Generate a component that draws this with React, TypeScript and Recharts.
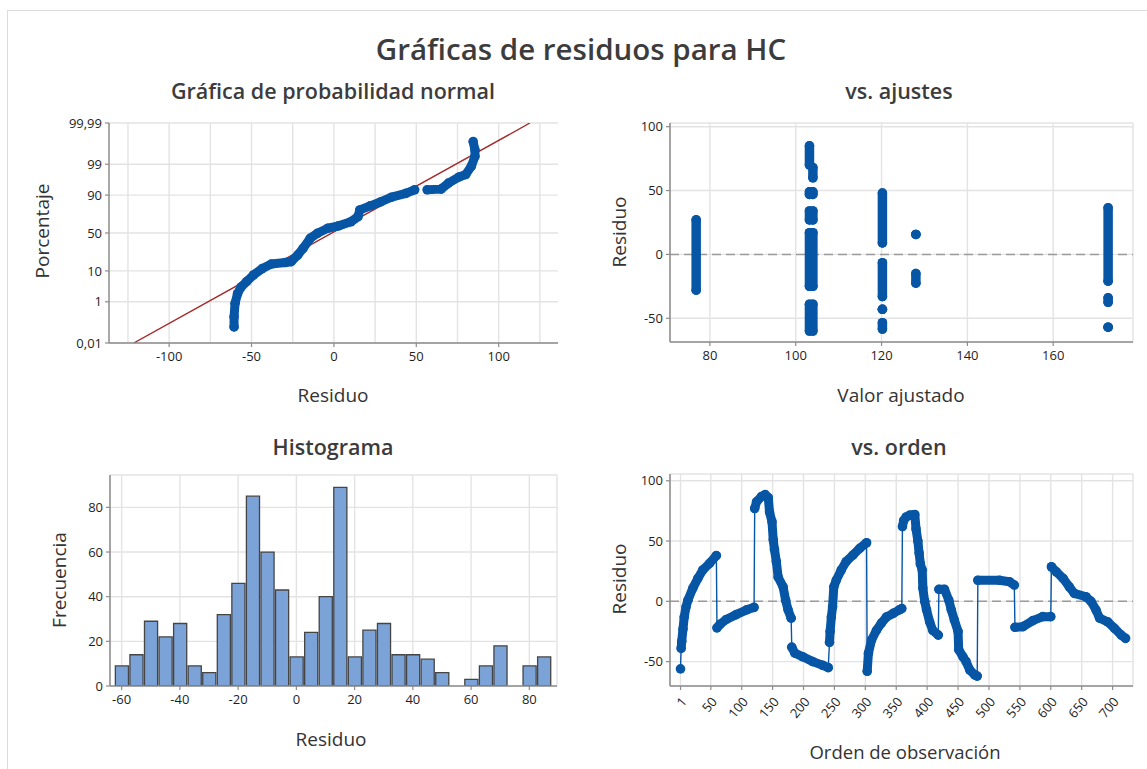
import React from "react";
import {
  Bar,
  CartesianGrid,
  ComposedChart,
  Line,
  ReferenceLine,
  XAxis,
  YAxis,
} from "recharts";

const BLUE = "#0756a6";
const RED = "#a52a2a";
const GRID = "#e3e3e3";
const FRAME = "#8c8c8c";
const TEXT = "#333333";
const FONT = "'Open Sans', 'Noto Sans', 'DejaVu Sans', sans-serif";

// --- Gráfica de probabilidad normal (residuo, porcentaje acumulado) ---
const probResLow = [-60.6, -60.6, -60, -58.5, -56.3, -53, -48.8, -43.4, -38, -29.5, -26, -22, -18.7, -14.4, -10, -3.7, 2.8, 10.3, 14.6, 15.7, 22, 28.6, 35, 43.7, 49];
const probPctLow = [0.075, 0.23, 0.87, 2.0, 3.4, 5.0, 7.8, 11.5, 14.7, 15.9, 16.6, 22.7, 30.2, 42.9, 49.6, 56.4, 59.5, 64.8, 70.9, 78.2, 82.1, 85.5, 88.7, 91.0, 92.8];
const probResHigh = [56.6, 65, 69.5, 76, 80, 83.4, 85.6, 85.6, 84.5];
const probPctHigh = [92.8, 93.1, 95.4, 97.1, 97.6, 98.8, 99.52, 99.75, 99.9];
const fitLineRes = [-121.5, 119];
const fitLinePct = [0.01, 99.99];
const probTickPct = [0.01, 1, 10, 50, 90, 99, 99.99];
const probTickLabels = ["0,01", "1", "10", "50", "90", "99", "99,99"];
const probTicksX = [-100, -50, 0, 50, 100];
const probGridX = [-125, -100, -75, -50, -25, 0, 25, 50, 75, 100, 125];

// --- vs. ajustes: valor ajustado y tramos de residuos (superior, inferior) ---
const fittedValues = [76.8, 103.2, 104.0, 120.2, 128.0, 172.8];
const fittedRanges = [
  [[27, -28]],
  [[85, 70], [49, 47], [34, 27], [17, -25], [-39, -60]],
  [[68, 60], [49, 47], [34, 27], [17, -25], [-39, -60]],
  [[48, 9], [-6.5, -33], [-43, -43], [-53.5, -58.5]],
  [[15.6, 15.6], [-15, -22.5]],
  [[36.5, -21], [-34, -37.5], [-57, -57]],
];
const fitTicksX = [80, 100, 120, 140, 160];
const resTicks = [-50, 0, 50, 100];

// --- Histograma ---
const binMid = [-60, -55, -50, -45, -40, -35, -30, -25, -20, -15, -10, -5, 0, 5, 10, 15, 20, 25, 30, 35, 40, 45, 50, 55, 60, 65, 70, 75, 80, 85];
const binCount = [9, 14, 29, 22, 28, 9, 6, 32, 46, 85, 60, 43, 13, 24, 40, 89, 13, 25, 28, 14, 14, 12, 6, 0, 3, 9, 18, 0, 9, 13];
const histTicksX = [-60, -40, -20, 0, 20, 40, 60, 80];
const histTicksY = [0, 20, 40, 60, 80];

// --- vs. orden: tramos de observaciones consecutivas [orden, residuo] ---
const orderRuns = [
  [[1, -56]],
  [[2, -39], [3, -33], [5, -23], [7, -13], [10, -4.5], [13, 1], [21, 11], [29, 19], [37, 26], [48, 31.5], [59, 38]],
  [[60, -22], [65, -19], [75, -15], [91, -11], [108, -7], [120, -5]],
  [[121, 77], [124, 82.5], [132, 87], [138, 88.5], [143, 86], [145, 74], [149, 66], [151, 51], [153, 43], [156, 33], [159, 20], [167, 12], [171, 1], [175, -7], [180, -14]],
  [[181, -38], [186, -43], [199, -46], [215, -50], [231, -53], [240, -55]],
  [[242, -34], [243, -25], [245, -13], [247, -4.5], [249, 12], [253, 17.6], [261, 26], [269, 33], [280, 38.4], [291, 44], [302, 48.6]],
  [[303, -58], [305, -43], [310, -32], [318, -24], [326, -18], [334, -13], [345, -10], [355, -7], [359, -6]],
  [[360, 62], [362, 67], [366, 70], [372, 71.5], [380, 72], [382, 60], [385, 50], [387, 40], [389, 31], [392, 26], [393, 11], [396, 0], [399, -7], [404, -17], [409, -24], [418, -28]],
  [[419, 10], [428, 10], [435, 1], [439, -7], [444, -15.5], [450, -25], [451, -40], [458, -46], [463, -50], [469, -57], [477, -61], [481, -62]],
  [[482, 17.5], [517, 17.5], [533, 16.3], [541, 13.5]],
  [[542, -21.5], [555, -21], [571, -16], [587, -12.7], [600, -12.7]],
  [[601, 28.7], [609, 24.5], [620, 19], [630, 12], [638, 6.6], [657, 3.8], [665, 0], [673, -7], [679, -14], [692, -17], [703, -22.4], [714, -28], [721, -30.7]],
];
const orderTicks = [1, 50, 100, 150, 200, 250, 300, 350, 400, 450, 500, 550, 600, 650, 700];

// inverse normal CDF (Acklam) for the probability scale
function probit(p: number) {
  const a = [-39.69683028665376, 220.9460984245205, -275.9285104469687, 138.357751867269, -30.66479806614716, 2.506628277459239];
  const b = [-54.47609879822406, 161.5858368580409, -155.6989798598866, 66.80131188771972, -13.28068155288572];
  const c = [-0.007784894002430293, -0.3223964580411365, -2.400758277161838, -2.549732539343734, 4.374664141464968, 2.938163982698783];
  const d = [0.007784695709041462, 0.3224671290700398, 2.445134137142996, 3.754408661907416];
  const tail = (q: number) =>
    (((((c[0] * q + c[1]) * q + c[2]) * q + c[3]) * q + c[4]) * q + c[5]) /
    ((((d[0] * q + d[1]) * q + d[2]) * q + d[3]) * q + 1);
  if (p < 0.02425) return tail(Math.sqrt(-2 * Math.log(p)));
  if (p > 1 - 0.02425) return -tail(Math.sqrt(-2 * Math.log(1 - p)));
  const q = p - 0.5;
  const r = q * q;
  return ((((((a[0] * r + a[1]) * r + a[2]) * r + a[3]) * r + a[4]) * r + a[5]) * q) /
    (((((b[0] * r + b[1]) * r + b[2]) * r + b[3]) * r + b[4]) * r + 1);
}
const zOf = (pct: number) => probit(pct / 100);

const probTickZ = probTickPct.map(zOf);
const bandLow = probResLow.map((r, i) => ({ res: r, z: zOf(probPctLow[i]) }));
const bandHigh = probResHigh.map((r, i) => ({ res: r, z: zOf(probPctHigh[i]) }));
const fitLine = fitLineRes.map((r, i) => ({ res: r, z: zOf(fitLinePct[i]) }));
const fitSegments = fittedValues.flatMap((x, i) =>
  fittedRanges[i].map(([hi, lo]) => [{ fit: x, res: hi }, { fit: x, res: lo }])
);
const histData = binMid.map((m, i) => ({ mid: m, count: binCount[i] }));
const orderSegments = orderRuns.map((run) => run.map(([o, r]) => ({ obs: o, res: r })));
const orderAll = orderSegments.flat();

const tickStyle = { fontSize: 13, fill: "#1e1e1e", fontFamily: FONT };
const axisLine = { stroke: FRAME, strokeWidth: 1.5 };
const tickLine = { stroke: FRAME, strokeWidth: 1.2 };
const dotStyle = { r: 4.8, fill: BLUE, stroke: BLUE, strokeWidth: 0 };
const YW = 56;
const MT = 14;
const MR = 6;

function Txt({ x, y, size, rotate = 0, weight = 400, color = TEXT, children }: any) {
  return (
    <div
      style={{
        position: "absolute",
        left: x,
        top: y,
        transform: `translate(-50%, -50%) rotate(${rotate}deg)`,
        fontSize: size,
        fontFamily: FONT,
        fontWeight: weight,
        color,
        whiteSpace: "nowrap",
        lineHeight: 1,
      }}
    >
      {children}
    </div>
  );
}

function FrameAxes() {
  return [
    <XAxis key="ft" xAxisId="top" orientation="top" type="number" domain={[0, 1]} tick={false} tickLine={false} height={0} axisLine={axisLine} />,
    <YAxis key="fr" yAxisId="right" orientation="right" type="number" domain={[0, 1]} tick={false} tickLine={false} width={0} axisLine={axisLine} />,
  ];
}

const TL = [109, 123, 558, 343];
const TR = [670, 123, 1133, 342];
const BL = [110, 475, 557, 686];
const BR = [670, 474, 1133, 686];

function chartProps(plot: number[], xh: number) {
  const [l, t, r, b] = plot;
  return {
    style: { position: "absolute" as const, left: l - YW, top: t - MT },
    width: YW + (r - l) + MR,
    height: MT + (b - t) + xh,
    margin: { top: MT, right: MR, left: 0, bottom: 0 },
  };
}

function ProbabilityPlot() {
  const p = chartProps(TL, 40);
  return (
    <div style={p.style}>
      <ComposedChart width={p.width} height={p.height} margin={p.margin}>
        <CartesianGrid stroke={GRID} strokeWidth={1.4} verticalValues={probGridX} horizontalValues={probTickZ} />
        <XAxis type="number" dataKey="res" domain={[-136.5, 136]} ticks={probTicksX} interval={0} allowDataOverflow
          tick={tickStyle} tickLine={tickLine} axisLine={axisLine} tickSize={4} tickMargin={5} height={40} />
        <YAxis type="number" dataKey="z" domain={[probTickZ[0], probTickZ[6]]} ticks={probTickZ} interval={0} allowDataOverflow
          tickFormatter={(v: number) => probTickLabels[probTickZ.findIndex((t) => Math.abs(t - v) < 1e-6)]}
          tick={tickStyle} tickLine={tickLine} axisLine={axisLine} tickSize={4} tickMargin={3} width={YW} />
        {FrameAxes()}
        <Line data={fitLine} dataKey="z" stroke={RED} strokeWidth={1.4} dot={false} isAnimationActive={false} />
        <Line data={bandLow} dataKey="z" stroke={BLUE} strokeWidth={9} strokeLinejoin="round" strokeLinecap="round" dot={dotStyle} isAnimationActive={false} />
        <Line data={bandHigh} dataKey="z" stroke={BLUE} strokeWidth={9} strokeLinejoin="round" strokeLinecap="round" dot={dotStyle} isAnimationActive={false} />
      </ComposedChart>
    </div>
  );
}

function FitsPlot() {
  const p = chartProps(TR, 40);
  return (
    <div style={p.style}>
      <ComposedChart width={p.width} height={p.height} margin={p.margin}>
        <CartesianGrid stroke={GRID} strokeWidth={1.4} />
        <XAxis type="number" dataKey="fit" domain={[70.7, 178.6]} ticks={fitTicksX} interval={0} allowDataOverflow
          tick={tickStyle} tickLine={tickLine} axisLine={axisLine} tickSize={4} tickMargin={5} height={40} />
        <YAxis type="number" dataKey="res" domain={[-68.6, 102.9]} ticks={resTicks} interval={0} allowDataOverflow
          tick={tickStyle} tickLine={tickLine} axisLine={axisLine} tickSize={4} tickMargin={3} width={YW} />
        {FrameAxes()}
        <ReferenceLine y={0} stroke="#9a9a9a" strokeWidth={1.5} strokeDasharray="9 5" />
        {fitSegments.map((seg, i) => (
          <Line key={i} data={seg} dataKey="res" stroke={BLUE} strokeWidth={9.5} strokeLinecap="round" dot={dotStyle} isAnimationActive={false} />
        ))}
      </ComposedChart>
    </div>
  );
}

function Histogram() {
  const p = chartProps(BL, 40);
  const xDomain = [-64, 89.5];
  const barSize = ((BL[2] - BL[0]) * 5) / (xDomain[1] - xDomain[0]);
  return (
    <div style={p.style}>
      <ComposedChart width={p.width} height={p.height} margin={p.margin} data={histData}>
        <CartesianGrid stroke={GRID} strokeWidth={1.4} />
        <XAxis type="number" dataKey="mid" domain={xDomain} ticks={histTicksX} interval={0} allowDataOverflow
          tick={tickStyle} tickLine={tickLine} axisLine={axisLine} tickSize={4} tickMargin={5} height={40} />
        <YAxis type="number" domain={[0, 94.5]} ticks={histTicksY} interval={0} allowDataOverflow
          tick={tickStyle} tickLine={tickLine} axisLine={axisLine} tickSize={4} tickMargin={3} width={YW} />
        {FrameAxes()}
        <Bar dataKey="count" fill="#7ba3d8" stroke="#454545" strokeWidth={1.3} barSize={barSize} isAnimationActive={false} />
      </ComposedChart>
    </div>
  );
}

function OrderPlot() {
  const p = chartProps(BR, 60);
  return (
    <div style={p.style}>
      <ComposedChart width={p.width} height={p.height} margin={p.margin}>
        <CartesianGrid stroke={GRID} strokeWidth={1.4} />
        <XAxis type="number" dataKey="obs" domain={[-16, 733]} ticks={orderTicks} interval={0} allowDataOverflow
          tick={{ ...tickStyle, fontSize: 13 }} angle={-50} textAnchor="end" tickLine={tickLine} axisLine={axisLine}
          tickSize={4} tickMargin={6} height={60} />
        <YAxis type="number" dataKey="res" domain={[-70.2, 105.6]} ticks={resTicks} interval={0} allowDataOverflow
          tick={tickStyle} tickLine={tickLine} axisLine={axisLine} tickSize={4} tickMargin={3} width={YW} />
        {FrameAxes()}
        <ReferenceLine y={0} stroke="#9a9a9a" strokeWidth={1.5} strokeDasharray="9 5" />
        <Line data={orderAll} dataKey="res" stroke={BLUE} strokeWidth={1.4} dot={false} isAnimationActive={false} />
        {orderSegments.map((seg, i) => (
          <Line key={i} data={seg} dataKey="res" stroke={BLUE} strokeWidth={9} strokeLinejoin="round" strokeLinecap="round" dot={dotStyle} isAnimationActive={false} />
        ))}
      </ComposedChart>
    </div>
  );
}

export default function App() {
  const titleColor = "#3c3c3c";
  return (
    <div style={{ position: "absolute", left: 0, top: 0, width: 1147, height: 769, background: "#fff", overflow: "hidden" }}>
      <div style={{ position: "absolute", left: 7, top: 10, right: 0, bottom: 0, borderLeft: "1.5px solid #dcdcdc", borderTop: "1.5px solid #dcdcdc" }} />
      <Txt x={581} y={49} size={29.5} weight={600} color={titleColor}>Gráficas de residuos para HC</Txt>
      <Txt x={333} y={91} size={21.5} weight={600} color={titleColor}>Gráfica de probabilidad normal</Txt>
      <Txt x={899} y={91} size={21.5} weight={600} color={titleColor}>vs. ajustes</Txt>
      <Txt x={333} y={447} size={21.5} weight={600} color={titleColor}>Histograma</Txt>
      <Txt x={899} y={447} size={21.5} weight={600} color={titleColor}>vs. orden</Txt>
      <ProbabilityPlot />
      <FitsPlot />
      <Histogram />
      <OrderPlot />
      <Txt x={42} y={231} size={19} rotate={-90}>Porcentaje</Txt>
      <Txt x={333} y={395} size={19}>Residuo</Txt>
      <Txt x={619} y={232} size={19} rotate={-90}>Residuo</Txt>
      <Txt x={901} y={395} size={19}>Valor ajustado</Txt>
      <Txt x={59} y={580} size={19} rotate={-90}>Frecuencia</Txt>
      <Txt x={331} y={739} size={19}>Residuo</Txt>
      <Txt x={619} y={579} size={19} rotate={-90}>Residuo</Txt>
      <Txt x={905} y={752} size={18.5}>Orden de observación</Txt>
    </div>
  );
}
